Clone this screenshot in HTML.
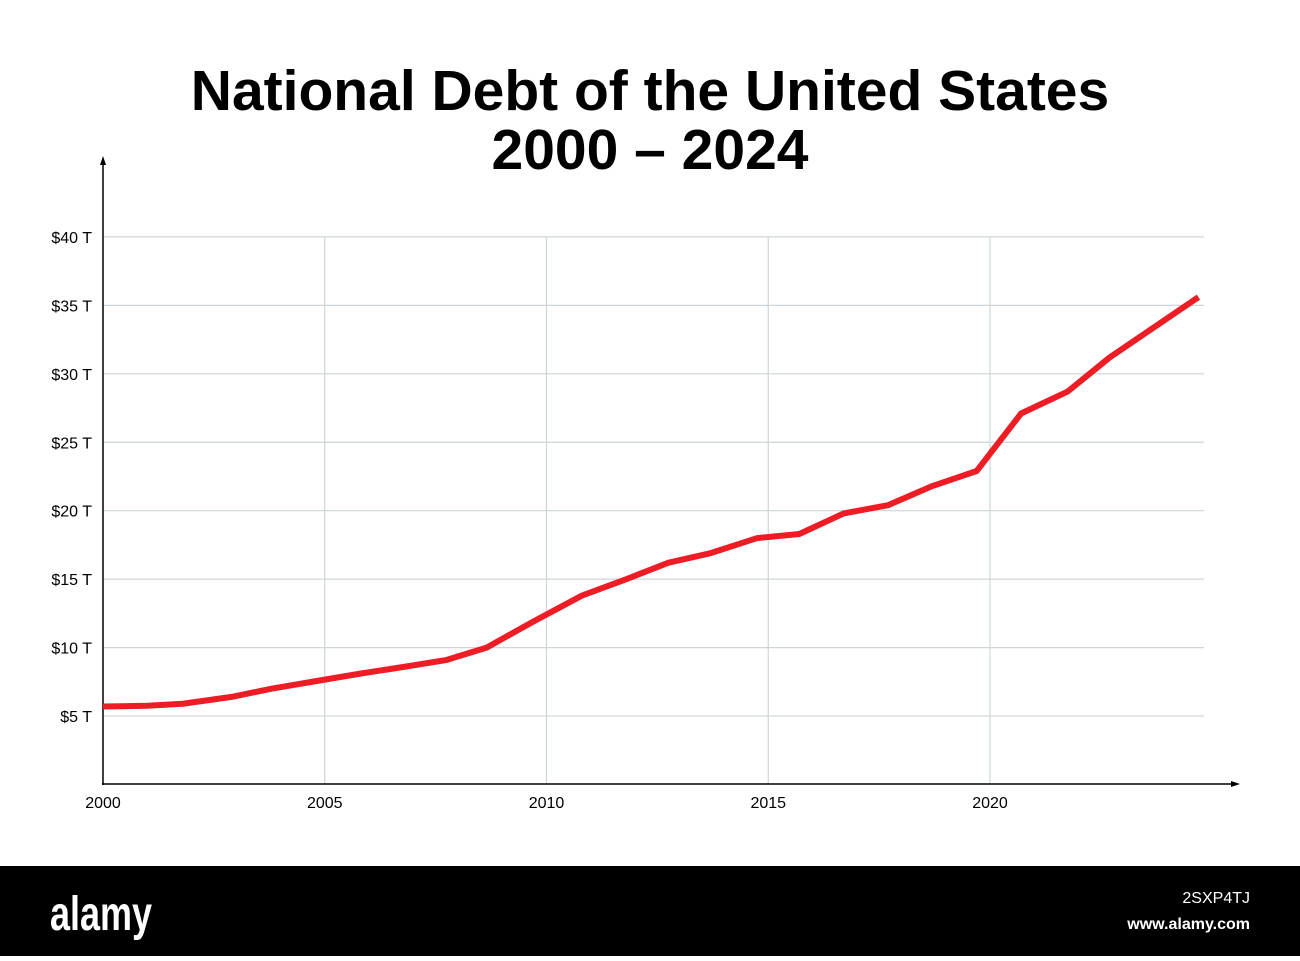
<!DOCTYPE html>
<html><head><meta charset="utf-8"><style>
body{margin:0;background:#fff;width:1300px;height:956px;overflow:hidden;font-family:"Liberation Sans",sans-serif}
</style></head><body>
<svg width="1300" height="956">
<text x="650" y="110" text-anchor="middle" font-size="57" font-weight="bold">National Debt of the United States</text>
<text x="650" y="169" text-anchor="middle" font-size="57" font-weight="bold">2000 – 2024</text>
<g id="grid"></g><g id="axes"></g><g id="series"></g>
<rect x="0" y="866" width="1300" height="90" fill="#000"/>
<text x="50" y="930" fill="#fff" font-size="48" font-weight="bold" textLength="102" lengthAdjust="spacingAndGlyphs">alamy</text>
<text x="1250" y="903" fill="#fff" font-size="16" text-anchor="end">2SXP4TJ</text>
<text x="1250" y="929" fill="#fff" font-size="16" font-weight="bold" text-anchor="end">www.alamy.com</text>
</svg>
<script>
const xYears=[2000,2001,2001.8,2002.9,2003.8,2004.8,2005.8,2006.8,2007.75,2008.65,2009.7,2010.8,2011.8,2012.75,2013.7,2014.75,2015.7,2016.7,2017.7,2018.7,2019.7,2020.7,2021.75,2022.7,2023.7,2024.7];
const debtT=[5.7,5.75,5.9,6.4,7.0,7.55,8.1,8.6,9.1,10.0,11.9,13.8,15.0,16.2,16.9,18.0,18.3,19.8,20.4,21.8,22.9,27.1,28.7,31.2,33.4,35.6];
const yTicks=[5,10,15,20,25,30,35,40];
const xTicks=[2000,2005,2010,2015,2020];
const NS="http://www.w3.org/2000/svg";
const X=y=>103+(y-2000)*44.35, Y=v=>784.5-v*13.69;
function mk(p,t,a){const e=document.createElementNS(NS,t);for(const k in a)e.setAttribute(k,a[k]);p.appendChild(e);return e;}
const g=document.getElementById('grid'),ax=document.getElementById('axes'),s=document.getElementById('series');
yTicks.forEach(v=>{
 const l=mk(g,'line',{x1:103,x2:1204,y1:Y(v),y2:Y(v),stroke:'#cdd5da','stroke-width':1.2});
 
 
 const t=mk(g,'text',{x:92,y:Y(v)+6,'text-anchor':'end','font-size':16});t.textContent='$'+v+' T';
 
 
});
xTicks.forEach(v=>{
 if(v>2000){const l=mk(g,'line',{x1:X(v),x2:X(v),y1:237,y2:784,stroke:'#cdd5da','stroke-width':1.2});
 
 }
 const t=mk(g,'text',{x:X(v),y:808,'text-anchor':'middle','font-size':16});t.textContent=v;
 
 
});
const ya=mk(ax,'line',{x1:103,x2:103,y1:162,y2:785,stroke:'#000','stroke-width':1.5});


const xa=mk(ax,'line',{x1:102,x2:1236,y1:784,y2:784,stroke:'#000','stroke-width':1.5});


const a1=mk(ax,'path',{d:'M103 156 L100 165 L106 165 Z',fill:'#000'});


const a2=mk(ax,'path',{d:'M1240 784 L1231 781 L1231 787 Z',fill:'#000'});


const pts=xYears.map((y,i)=>X(y)+','+Y(debtT[i])).join(' ');
const pl=mk(s,'polyline',{points:pts,fill:'none',stroke:'#ee1c25','stroke-width':6,'stroke-linejoin':'round'});


</script>
</body></html>
